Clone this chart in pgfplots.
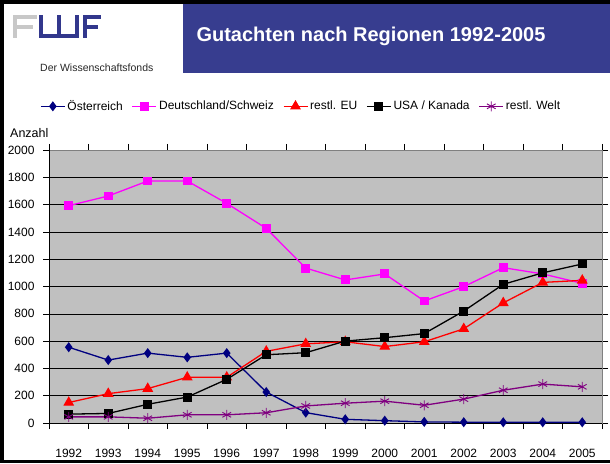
\documentclass[border=0pt]{standalone}
\usepackage{fontspec}
\setmainfont{Liberation Sans}
\usepackage{pgfplots}
\pgfplotsset{compat=1.18}
\definecolor{fwfblue}{RGB}{55,61,143}
\definecolor{logonavy}{RGB}{50,55,140}
\definecolor{logogray}{RGB}{200,200,200}
\definecolor{plotgray}{RGB}{192,192,192}
\definecolor{osnavy}{RGB}{0,0,128}
\definecolor{demag}{RGB}{255,0,255}
\definecolor{eured}{RGB}{255,0,0}
\definecolor{weltpurple}{RGB}{128,0,128}
\begin{document}
\begin{tikzpicture}
% canvas and frame
\fill[white] (0pt,0pt) rectangle (610pt,463pt);
\fill[black] (0pt,0pt) rectangle (610pt,3pt);
\fill[black] (0pt,459pt) rectangle (610pt,463pt);
\fill[black] (0pt,0pt) rectangle (4pt,463pt);
% header box
\fill[fwfblue] (183pt,390pt) rectangle (610pt,459pt);
\node[text=white, font=\bfseries\fontsize{20}{23}\selectfont] at (371pt,427pt) {Gutachten nach Regionen 1992-2005};
% logo
\fill[logogray] (13pt,425pt) rectangle (17pt,448pt);
\fill[logogray] (13pt,444pt) rectangle (37pt,448pt);
\fill[logogray] (13pt,434pt) rectangle (33pt,438pt);
\fill[logonavy] (39pt,425pt) rectangle (43pt,448pt);
\fill[logonavy] (57pt,425pt) rectangle (61pt,448pt);
\fill[logonavy] (75pt,425pt) rectangle (79pt,448pt);
\fill[logonavy] (39pt,425pt) rectangle (79pt,429pt);
\fill[logonavy] (83pt,425pt) rectangle (87pt,448pt);
\fill[logonavy] (83pt,444pt) rectangle (101pt,448pt);
\fill[logonavy] (83pt,434pt) rectangle (98pt,438pt);
\node[anchor=west, inner sep=0pt, text={rgb,255:red,40;green,40;blue,40}, font=\fontsize{10.5}{12}\selectfont] at (40pt,395pt) {Der Wissenschaftsfonds};
% y label
\node[anchor=west, inner sep=0pt, font=\fontsize{12.5}{14}\selectfont] at (10pt,330pt) {Anzahl};
\begin{axis}[
  scale only axis, width=553pt, height=273pt,
  at={(49pt,40pt)}, anchor=south west,
  xmin=-0.5, xmax=13.5, ymin=0, ymax=2000,
  axis background/.style={fill=plotgray},
  axis line style={draw=gray, line width=0.8pt},
  tick align=outside,
  major tick length=6pt,
  tick style={black, line width=0.6pt},
  xtick={-0.5,0.5,1.5,2.5,3.5,4.5,5.5,6.5,7.5,8.5,9.5,10.5,11.5,12.5,13.5},
  xticklabels={,,,,,,,,,,,,,,},
  extra x ticks={0,1,2,3,4,5,6,7,8,9,10,11,12,13},
  extra x tick labels={1992,1993,1994,1995,1996,1997,1998,1999,2000,2001,2002,2003,2004,2005},
  extra x tick style={major tick length=0pt, xticklabel style={yshift=-23pt}},
  ytick={0,200,...,2000},
  ymajorgrids,
  major grid style={black, line width=0.6pt},
  /pgf/number format/1000 sep={},
  /pgf/number format/assume math mode=true,
  xticklabel style={font=\fontsize{12}{14}\selectfont},
  yticklabel style={font=\fontsize{12}{14}\selectfont, xshift=-5pt},
  legend style={at={(0.456,1.16)}, anchor=center, draw=none, fill=none,
    font=\fontsize{12}{14}\selectfont, inner sep=1pt,
    /tikz/every even column/.append style={column sep=7pt}},
  legend columns=5,
  legend image code/.code={\draw[mark repeat=2,mark phase=2] plot coordinates {(0pt,0pt)(12pt,0pt)(24pt,0pt)};},
  clip=false,
]
\addplot[color=osnavy, line width=1.3pt, mark=diamond*, mark size=4pt, mark options={solid, fill=osnavy}]
  coordinates {(0,555)(1,461)(2,512)(3,481)(4,512)(5,227)(6,76)(7,27)(8,17)(9,8)(10,6)(11,5)(12,5)(13,5)};
\addlegendentry{Österreich}
\addplot[color=demag, line width=1.3pt, mark=square*, mark size=3.8pt, mark options={solid, fill=demag}]
  coordinates {(0,1592)(1,1663)(2,1773)(3,1773)(4,1609)(5,1426)(6,1135)(7,1048)(8,1092)(9,894)(10,999)(11,1138)(12,1092)(13,1023)};
\addlegendentry{Deutschland/Schweiz}
\addplot[color=eured, line width=1.3pt, mark=triangle*, mark size=5pt, mark options={solid, fill=eured}]
  coordinates {(0,150)(1,215)(2,252)(3,335)(4,335)(5,525)(6,580)(7,595)(8,560)(9,595)(10,690)(11,880)(12,1030)(13,1045)};
\addlegendentry{restl. EU}
\addplot[color=black, line width=1.3pt, mark=square*, mark size=3.8pt, mark options={solid, fill=black}]
  coordinates {(0,65)(1,70)(2,137)(3,190)(4,320)(5,500)(6,515)(7,600)(8,625)(9,655)(10,820)(11,1016)(12,1100)(13,1165)};
\addlegendentry{USA / Kanada}
\addplot[color=weltpurple, line width=1.3pt, mark=asterisk, mark size=5pt, mark options={solid, line width=0.9pt}]
  coordinates {(0,45)(1,45)(2,35)(3,60)(4,60)(5,75)(6,125)(7,145)(8,160)(9,130)(10,175)(11,240)(12,285)(13,265)};
\addlegendentry{restl. Welt}
\draw[black, line width=0.8pt] (rel axis cs:0,1) -- (rel axis cs:0,0) -- (rel axis cs:1,0);
\end{axis}
\end{tikzpicture}
\end{document}
